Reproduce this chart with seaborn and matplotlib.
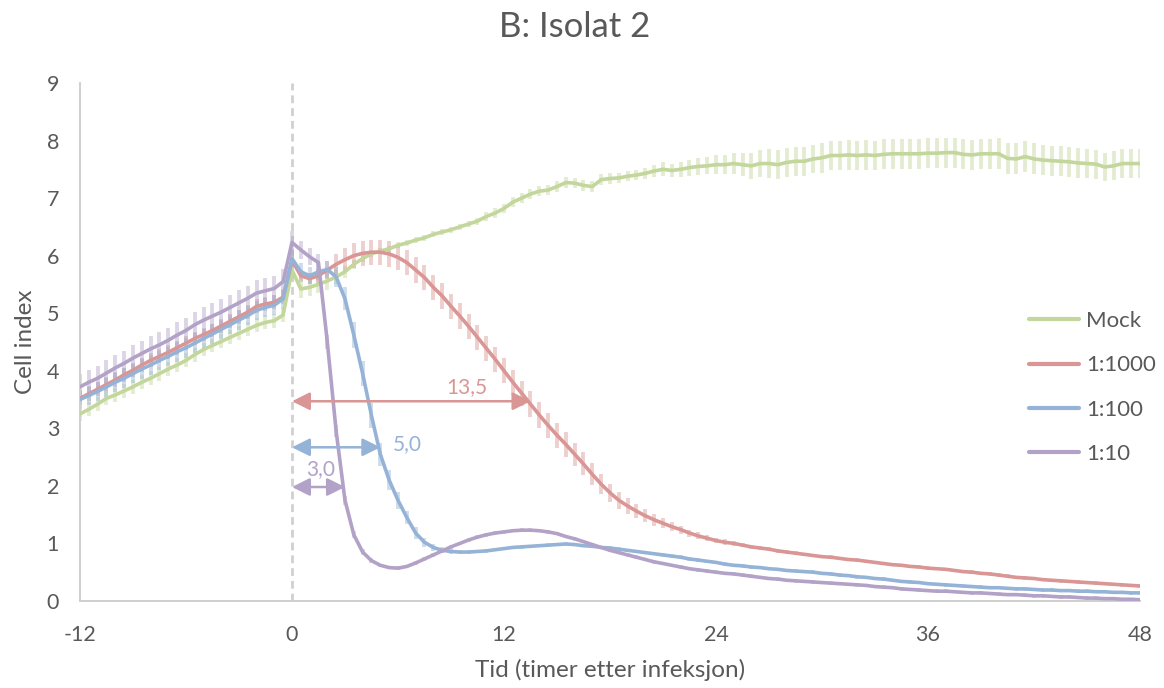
import numpy as np
import pandas as pd
import matplotlib
matplotlib.use("Agg")
import matplotlib.pyplot as plt
import seaborn as sns

# Time axis: hours relative to infection, one reading every half hour
hours = np.arange(-12, 48.5, 0.5)

series_names = ["Mock", "1:1000", "1:100", "1:10"]
series_colors = ["#C3D69B", "#D99694", "#95B3D7", "#B3A2C7"]

mock = [
    3.25, 3.33, 3.42, 3.52, 3.58, 3.65, 3.72, 3.80, 3.87, 3.95,
    4.03, 4.10, 4.18, 4.28, 4.37, 4.44, 4.51, 4.58, 4.65, 4.72,
    4.79, 4.84, 4.87, 4.97,
    5.75, 5.42, 5.45, 5.50, 5.56, 5.63, 5.72, 5.85, 5.95, 6.03,
    6.08, 6.12, 6.18, 6.22, 6.27, 6.31, 6.37, 6.41, 6.45, 6.50,
    6.55, 6.60, 6.68, 6.74, 6.82, 6.93, 7.00, 7.07, 7.12, 7.14,
    7.20, 7.27, 7.26, 7.22, 7.20, 7.32, 7.34, 7.35, 7.38, 7.40,
    7.43, 7.47, 7.50, 7.48, 7.50, 7.53, 7.55, 7.56, 7.58, 7.58,
    7.60, 7.58, 7.56, 7.60, 7.60, 7.58, 7.62, 7.64, 7.64, 7.68,
    7.70, 7.74, 7.74, 7.75, 7.74, 7.75, 7.74, 7.76, 7.77, 7.77,
    7.77, 7.77, 7.78, 7.78, 7.79, 7.79, 7.76, 7.75, 7.77, 7.77,
    7.77, 7.69, 7.68, 7.72, 7.68, 7.66, 7.65, 7.64, 7.63, 7.61,
    7.60, 7.59, 7.54, 7.56, 7.60, 7.60, 7.60,
]
mock_err = [
    0.12, 0.12, 0.12, 0.12, 0.12, 0.12, 0.12, 0.12, 0.12, 0.12,
    0.12, 0.12, 0.12, 0.12, 0.12, 0.12, 0.12, 0.12, 0.12, 0.12,
    0.12, 0.12, 0.12, 0.12,
    0.15, 0.15, 0.15, 0.15, 0.15, 0.12, 0.10, 0.08, 0.06, 0.05,
    0.05, 0.05, 0.05, 0.05, 0.05, 0.05, 0.05, 0.05, 0.05, 0.05,
    0.06, 0.06, 0.07, 0.08, 0.08, 0.09, 0.09, 0.09, 0.09, 0.09,
    0.09, 0.09, 0.09, 0.09, 0.09, 0.09, 0.09, 0.09, 0.09, 0.09,
    0.10, 0.10, 0.12, 0.12, 0.13, 0.14, 0.15, 0.15, 0.16, 0.17,
    0.19, 0.20, 0.22, 0.24, 0.25, 0.25, 0.25, 0.25, 0.25, 0.25,
    0.26, 0.26, 0.26, 0.26, 0.26, 0.26, 0.26, 0.26, 0.26, 0.26,
    0.26, 0.26, 0.26, 0.26, 0.26, 0.26, 0.26, 0.26, 0.26, 0.26,
    0.27, 0.27, 0.27, 0.27, 0.27, 0.26, 0.26, 0.26, 0.26, 0.26,
    0.25, 0.25, 0.25, 0.25, 0.25, 0.25, 0.25,
]

d1000 = [
    3.52, 3.60, 3.68, 3.76, 3.84, 3.93, 4.01, 4.10, 4.18, 4.25,
    4.32, 4.40, 4.48, 4.56, 4.63, 4.70, 4.78, 4.86, 4.94, 5.02,
    5.12, 5.16, 5.19, 5.28,
    5.92, 5.65, 5.60, 5.65, 5.75, 5.85, 5.93, 6.00, 6.04, 6.06,
    6.06, 6.03, 5.97, 5.88, 5.75, 5.62, 5.45, 5.30, 5.12, 4.95,
    4.77, 4.58, 4.39, 4.20, 4.00, 3.80, 3.61, 3.42, 3.23, 3.05,
    2.88, 2.72, 2.55, 2.38, 2.20, 2.03, 1.88, 1.75, 1.65, 1.56,
    1.48, 1.41, 1.35, 1.29, 1.24, 1.18, 1.13, 1.09, 1.05, 1.02,
    1.00, 0.97, 0.94, 0.92, 0.90, 0.87, 0.85, 0.83, 0.81, 0.79,
    0.77, 0.76, 0.74, 0.72, 0.71, 0.69, 0.67, 0.65, 0.63, 0.62,
    0.60, 0.59, 0.57, 0.56, 0.55, 0.53, 0.51, 0.50, 0.48, 0.47,
    0.45, 0.43, 0.41, 0.40, 0.39, 0.37, 0.36, 0.35, 0.34, 0.33,
    0.32, 0.31, 0.30, 0.29, 0.28, 0.27, 0.26,
]
d1000_err = [
    0.12, 0.12, 0.12, 0.12, 0.12, 0.12, 0.12, 0.12, 0.12, 0.12,
    0.12, 0.12, 0.12, 0.12, 0.12, 0.12, 0.12, 0.12, 0.12, 0.12,
    0.12, 0.12, 0.12, 0.12,
    0.12, 0.10, 0.10, 0.12, 0.15, 0.18, 0.20, 0.22, 0.22, 0.22,
    0.22, 0.22, 0.22, 0.22, 0.22, 0.22, 0.22, 0.22, 0.22, 0.22,
    0.22, 0.22, 0.22, 0.22, 0.22, 0.22, 0.22, 0.22, 0.22, 0.22,
    0.22, 0.21, 0.20, 0.20, 0.19, 0.18, 0.16, 0.15, 0.14, 0.12,
    0.11, 0.10, 0.09, 0.08, 0.07, 0.06, 0.06, 0.05, 0.05, 0.05,
    0.05, 0.04, 0.04, 0.04, 0.04, 0.04, 0.03, 0.03, 0.03, 0.03,
    0.03, 0.03, 0.03, 0.03, 0.03, 0.03, 0.03, 0.03, 0.03, 0.03,
    0.03, 0.03, 0.03, 0.03, 0.03, 0.03, 0.03, 0.03, 0.03, 0.03,
    0.03, 0.03, 0.03, 0.03, 0.03, 0.03, 0.03, 0.03, 0.03, 0.03,
    0.03, 0.03, 0.03, 0.03, 0.03, 0.03, 0.03,
]

d100 = [
    3.50, 3.57, 3.64, 3.72, 3.80, 3.87, 3.95, 4.03, 4.10, 4.18,
    4.25, 4.33, 4.40, 4.48, 4.56, 4.64, 4.72, 4.80, 4.88, 4.96,
    5.05, 5.10, 5.14, 5.25,
    5.95, 5.72, 5.65, 5.72, 5.76, 5.63, 5.25, 4.62, 3.95, 3.22,
    2.55, 2.10, 1.75, 1.45, 1.18, 1.02, 0.93, 0.88, 0.86, 0.85,
    0.85, 0.86, 0.87, 0.89, 0.91, 0.93, 0.94, 0.95, 0.96, 0.97,
    0.98, 0.99, 0.98, 0.96, 0.95, 0.93, 0.92, 0.90, 0.88, 0.86,
    0.84, 0.82, 0.80, 0.78, 0.76, 0.73, 0.71, 0.69, 0.67, 0.64,
    0.62, 0.61, 0.59, 0.58, 0.56, 0.55, 0.53, 0.52, 0.51, 0.50,
    0.48, 0.47, 0.45, 0.44, 0.42, 0.41, 0.39, 0.38, 0.36, 0.34,
    0.33, 0.32, 0.30, 0.29, 0.28, 0.27, 0.26, 0.25, 0.24, 0.23,
    0.23, 0.22, 0.21, 0.21, 0.20, 0.19, 0.19, 0.18, 0.18, 0.17,
    0.17, 0.16, 0.16, 0.15, 0.15, 0.14, 0.14,
]
d100_err = [
    0.17, 0.17, 0.17, 0.17, 0.17, 0.17, 0.17, 0.17, 0.17, 0.17,
    0.17, 0.17, 0.17, 0.17, 0.17, 0.17, 0.17, 0.17, 0.17, 0.17,
    0.17, 0.17, 0.17, 0.17,
    0.15, 0.15, 0.15, 0.15, 0.15, 0.18, 0.20, 0.22, 0.22, 0.22,
    0.20, 0.18, 0.15, 0.12, 0.10, 0.08, 0.06, 0.05, 0.04, 0.03,
    0.03, 0.03, 0.03, 0.03, 0.03, 0.03, 0.03, 0.03, 0.03, 0.03,
    0.03, 0.03, 0.03, 0.03, 0.03, 0.03, 0.03, 0.03, 0.03, 0.03,
    0.03, 0.03, 0.03, 0.03, 0.03, 0.03, 0.03, 0.03, 0.03, 0.03,
    0.03, 0.03, 0.03, 0.03, 0.03, 0.03, 0.03, 0.03, 0.03, 0.03,
    0.03, 0.03, 0.03, 0.03, 0.03, 0.03, 0.03, 0.03, 0.03, 0.03,
    0.03, 0.03, 0.03, 0.03, 0.03, 0.03, 0.03, 0.03, 0.03, 0.03,
    0.03, 0.03, 0.03, 0.03, 0.03, 0.03, 0.03, 0.03, 0.03, 0.03,
    0.03, 0.03, 0.03, 0.03, 0.03, 0.03, 0.03,
]

d10 = [
    3.72, 3.80, 3.87, 3.96, 4.05, 4.13, 4.22, 4.30, 4.38, 4.45,
    4.53, 4.62, 4.70, 4.80, 4.88, 4.95, 5.02, 5.10, 5.18, 5.26,
    5.35, 5.39, 5.43, 5.55,
    6.23, 6.10, 5.98, 5.88, 4.50, 2.95, 1.75, 1.15, 0.85, 0.70,
    0.62, 0.58, 0.57, 0.60, 0.66, 0.73, 0.80, 0.87, 0.94, 1.00,
    1.06, 1.11, 1.15, 1.18, 1.20, 1.22, 1.23, 1.23, 1.22, 1.20,
    1.17, 1.12, 1.08, 1.03, 0.98, 0.93, 0.88, 0.84, 0.80, 0.76,
    0.72, 0.68, 0.65, 0.62, 0.59, 0.56, 0.54, 0.52, 0.50, 0.48,
    0.47, 0.45, 0.43, 0.41, 0.39, 0.38, 0.36, 0.35, 0.34, 0.33,
    0.32, 0.31, 0.30, 0.29, 0.28, 0.27, 0.25, 0.24, 0.23, 0.21,
    0.20, 0.19, 0.18, 0.17, 0.17, 0.16, 0.15, 0.14, 0.14, 0.13,
    0.12, 0.11, 0.11, 0.10, 0.09, 0.09, 0.08, 0.07, 0.07, 0.06,
    0.05, 0.05, 0.04, 0.04, 0.03, 0.03, 0.02,
]
d10_err = [
    0.22, 0.22, 0.22, 0.22, 0.22, 0.22, 0.22, 0.22, 0.22, 0.22,
    0.22, 0.22, 0.22, 0.22, 0.22, 0.22, 0.22, 0.22, 0.22, 0.22,
    0.22, 0.22, 0.22, 0.22,
    0.20, 0.15, 0.15, 0.15, 0.12, 0.10, 0.08, 0.06, 0.05, 0.04,
    0.03, 0.03, 0.03, 0.03, 0.03, 0.03, 0.03, 0.03, 0.03, 0.03,
    0.03, 0.03, 0.03, 0.03, 0.03, 0.03, 0.03, 0.03, 0.03, 0.03,
    0.03, 0.03, 0.03, 0.03, 0.03, 0.03, 0.03, 0.03, 0.03, 0.03,
    0.03, 0.03, 0.03, 0.03, 0.03, 0.03, 0.03, 0.03, 0.03, 0.03,
    0.03, 0.03, 0.03, 0.03, 0.03, 0.03, 0.03, 0.03, 0.03, 0.03,
    0.03, 0.03, 0.03, 0.03, 0.03, 0.03, 0.03, 0.03, 0.03, 0.03,
    0.03, 0.03, 0.03, 0.03, 0.03, 0.03, 0.03, 0.03, 0.03, 0.03,
    0.03, 0.03, 0.03, 0.03, 0.03, 0.03, 0.03, 0.03, 0.03, 0.03,
    0.03, 0.03, 0.03, 0.03, 0.03, 0.03, 0.03,
]

# Time-to-drop annotations
drop_times = [13.5, 5.0, 3.0]
drop_levels = [3.47, 2.67, 1.98]
drop_labels = ["13,5", "5,0", "3,0"]
drop_label_pos = [(9.9, 3.72), (6.5, 2.72), (1.6, 2.29)]
drop_colors = ["#D99694", "#95B3D7", "#B3A2C7"]

x_ticks = [-12, 0, 12, 24, 36, 48]
y_ticks = list(range(0, 10))

values = [mock, d1000, d100, d10]
errors = [mock_err, d1000_err, d100_err, d10_err]

df = pd.concat(
    [pd.DataFrame({"Tid": hours, "Cell index": v, "Serie": n, "err": e})
     for n, v, e in zip(series_names, values, errors)],
    ignore_index=True,
)

sns.set_theme(style="white")
plt.rcParams["font.family"] = ["Lato", "DejaVu Sans"]
plt.rcParams["axes.unicode_minus"] = False
text_col = "#595959"

fig = plt.figure(figsize=(11.64, 6.88), dpi=100)
ax = fig.add_axes([0.0687, 0.1265, 0.9107, 0.7529])

# infection time marker
ax.axvline(0, color="#D0D0D0", lw=2, ls=(0, (2.8, 1.8)), zorder=0)

# error bars behind the lines
for name, col in zip(series_names, series_colors):
    sub = df[df["Serie"] == name]
    ax.errorbar(sub["Tid"], sub["Cell index"], yerr=sub["err"], fmt="none",
                ecolor=col, elinewidth=2.8, alpha=0.45, capsize=0, zorder=1)

sns.lineplot(data=df, x="Tid", y="Cell index", hue="Serie",
             hue_order=series_names, palette=series_colors,
             estimator=None, sort=False, linewidth=2.6, ax=ax,
             solid_capstyle="round", solid_joinstyle="round", zorder=3)

# drop-time arrows
for t, lvl, lab, (lx, ly), col in zip(drop_times, drop_levels, drop_labels,
                                      drop_label_pos, drop_colors):
    ax.annotate("", xy=(t, lvl), xytext=(0, lvl),
                arrowprops=dict(arrowstyle="<|-|>,head_length=0.54,head_width=0.27",
                                mutation_scale=20, color=col, lw=1.8,
                                shrinkA=0, shrinkB=0), zorder=4)
    ax.text(lx, ly, lab, color=col, fontsize=15, ha="center", va="center",
            zorder=4)

ax.set_xlim(-12, 48)
ax.set_ylim(0, 9)
ax.set_xticks(x_ticks)
ax.set_yticks(y_ticks)
ax.tick_params(axis="both", length=0, labelsize=15.5, labelcolor=text_col)
ax.tick_params(axis="x", pad=17)
ax.tick_params(axis="y", pad=15)
for s in ["top", "right"]:
    ax.spines[s].set_visible(False)
for s in ["left", "bottom"]:
    ax.spines[s].set_color("#CFCFCF")
    ax.spines[s].set_linewidth(1.4)

ax.set_xlabel("Tid (timer etter infeksjon)", fontsize=17.5, color=text_col, labelpad=10)
ax.set_ylabel("Cell index", fontsize=17.5, color=text_col, labelpad=8)
fig.text(0.494, 0.961, "B: Isolat 2", fontsize=25, color=text_col,
         ha="center", va="center")

handles, labels = ax.get_legend_handles_labels()
leg = ax.legend(handles, labels, loc="center left", bbox_to_anchor=(0.876, 0.412),
                frameon=False, fontsize=16, handlelength=2.25, handletextpad=0.35,
                labelspacing=1.1, labelcolor=text_col)
for h in leg.get_lines():
    h.set_linewidth(3)
    h.set_solid_capstyle("round")

fig.savefig("out.png", dpi=100, facecolor="white")
